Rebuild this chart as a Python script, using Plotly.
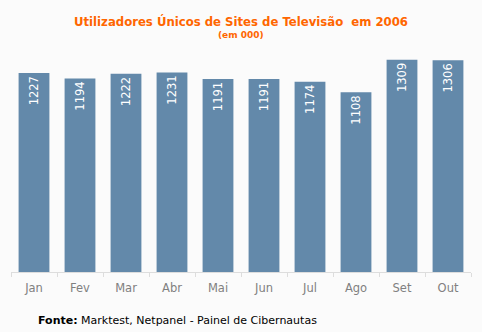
import plotly.graph_objects as go

months = ["Jan", "Fev", "Mar", "Abr", "Mai", "Jun", "Jul", "Ago", "Set", "Out"]
users = [1227, 1194, 1222, 1231, 1191, 1191, 1174, 1108, 1309, 1306]

title_main = "Utilizadores Únicos de Sites de Televisão  em 2006"
title_sub = "(em 000)"
source = "<b>Fonte:</b> Marktest, Netpanel - Painel de Cibernautas"

fig = go.Figure()
fig.add_trace(go.Bar(
    x=months, y=users,
    marker=dict(color="#6389aa", line=dict(width=0)),
    width=0.67,
    text=[str(v) for v in users],
    textposition="inside",
    insidetextanchor="end",
    textangle=-90,
    textfont=dict(color="white", size=11.5, family="DejaVu Sans"),
    hoverinfo="skip",
))

fig.update_layout(
    width=482, height=332,
    margin=dict(l=11, r=11, t=45, b=60),
    paper_bgcolor="#fbfbfb", plot_bgcolor="#fbfbfb",
    showlegend=False,
    bargap=0.33,
    xaxis=dict(
        type="category",
        showline=True, linecolor="#dddddd", linewidth=1,
        ticks="outside", tickson="boundaries", ticklen=4, tickcolor="#dddddd",
        tickfont=dict(color="#808080", size=11.5, family="DejaVu Sans"),
        ticklabelstandoff=5,
        showgrid=False,
    ),
    yaxis=dict(range=[0, 1400], visible=False, showgrid=False, zeroline=False),
    annotations=[
        dict(text="<b>" + title_main + "</b>", xref="paper", yref="paper", x=0.5, y=1,
             xanchor="center", yanchor="bottom", yshift=14, showarrow=False,
             font=dict(color="#ff6600", size=11.7, family="DejaVu Sans")),
        dict(text="<b>" + title_sub + "</b>", xref="paper", yref="paper", x=0.5, y=1,
             xanchor="center", yanchor="bottom", yshift=3, showarrow=False,
             font=dict(color="#ff6600", size=9, family="DejaVu Sans")),
        dict(text=source, xref="paper", yref="paper", x=0, y=0, xanchor="left",
             yanchor="top", xshift=25, yshift=-40, showarrow=False,
             font=dict(color="#000000", size=11, family="DejaVu Sans")),
    ],
)

fig.write_html("out.html")
